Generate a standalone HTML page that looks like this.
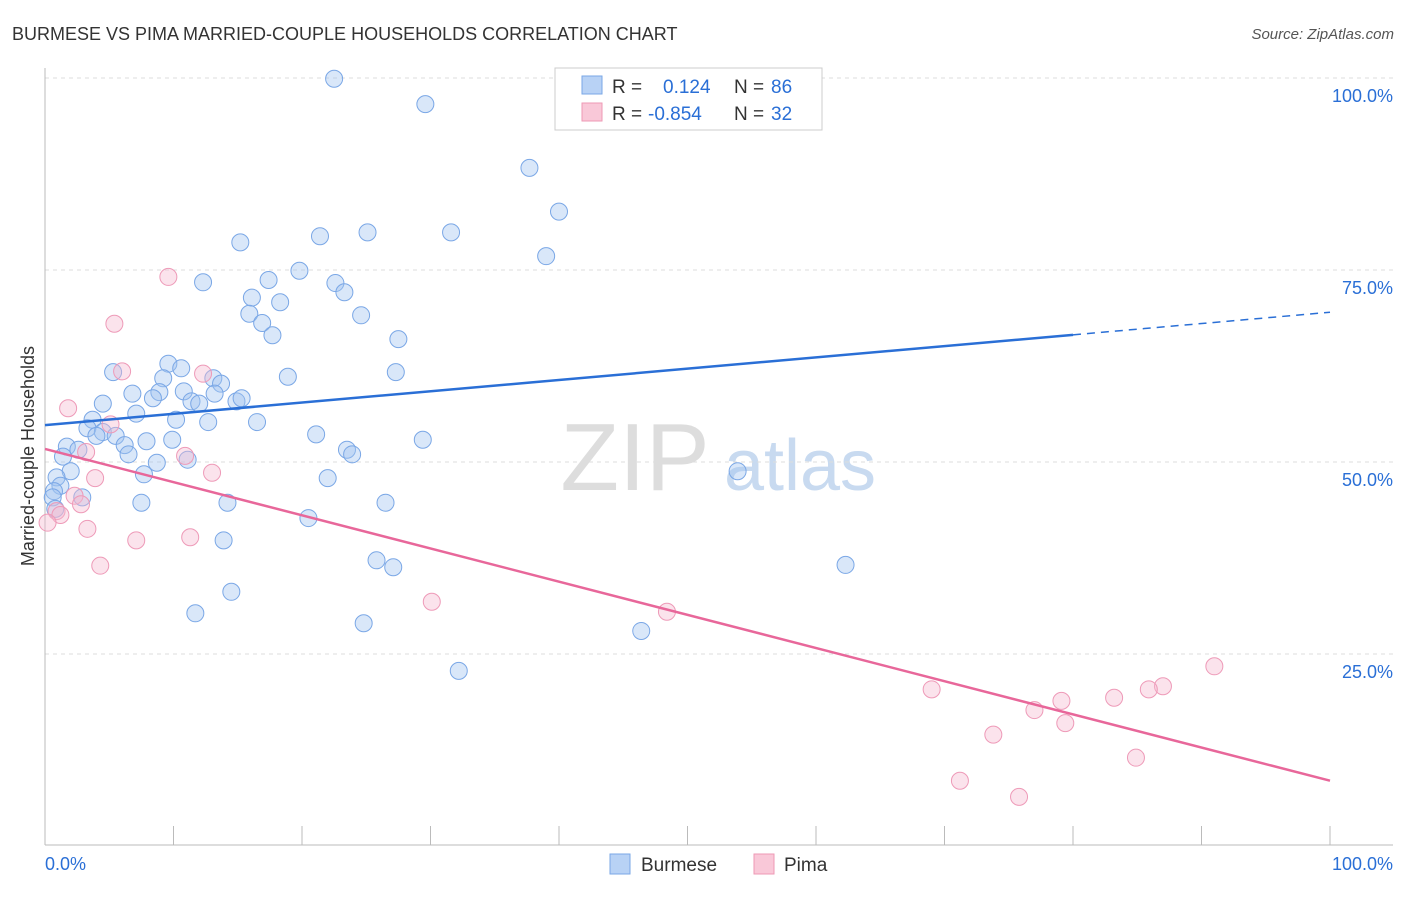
<!DOCTYPE html>
<html><head><meta charset="utf-8"><style>
body{margin:0;background:#fff;font-family:"Liberation Sans",sans-serif}
svg text{font-family:"Liberation Sans",sans-serif}
</style></head><body>
<svg id="chart" width="1406" height="892" xmlns="http://www.w3.org/2000/svg">
<text x="12" y="40" font-size="18" fill="#333">BURMESE VS PIMA MARRIED-COUPLE HOUSEHOLDS CORRELATION CHART</text>
<text x="1394" y="39" font-size="15" fill="#555" font-style="italic" text-anchor="end">Source: ZipAtlas.com</text>
<text x="635" y="490" font-size="96" fill="#ddd" font-family="Liberation Serif,serif" text-anchor="middle">ZIP</text>
<text x="800" y="490" font-size="72" fill="#c8daf0" text-anchor="middle">atlas</text>
<g id="grid"></g><g id="axes"></g><g id="marks"></g>
<text transform="translate(34,456) rotate(-90)" font-size="18" fill="#333" text-anchor="middle">Married-couple Households</text>
<g>
<rect x="555" y="68" width="267" height="62" fill="#fff" stroke="#ccc"/>
<rect x="582" y="76" width="20" height="18" fill="#b8d2f5" stroke="#7aa7e6"/>
<rect x="582" y="103" width="20" height="18" fill="#f9c8d8" stroke="#ee99b5"/>
<text x="612" y="93" font-size="19" fill="#333">R =</text><text x="663" y="93" font-size="19" fill="#2a6fd6">0.124</text>
<text x="734" y="93" font-size="19" fill="#333">N =</text><text x="771" y="93" font-size="19" fill="#2a6fd6">86</text>
<text x="612" y="120" font-size="19" fill="#333">R =</text><text x="648" y="120" font-size="19" fill="#2a6fd6">-0.854</text>
<text x="734" y="120" font-size="19" fill="#333">N =</text><text x="771" y="120" font-size="19" fill="#2a6fd6">32</text>
</g>
<g>
<rect x="610" y="854" width="20" height="20" fill="#b8d2f5" stroke="#7aa7e6"/>
<text x="641" y="871" font-size="19" fill="#333">Burmese</text>
<rect x="754" y="854" width="20" height="20" fill="#f9c8d8" stroke="#ee99b5"/>
<text x="784" y="871" font-size="19" fill="#333">Pima</text>
</g>
</svg>
<script>
const yTicks=[25,50,75,100];
const yTickLabels=["25.0%","50.0%","75.0%","100.0%"];
const xTicks=[0,10,20,30,40,50,60,70,80,90,100];
const burmeseX=[22.5,29.6,37.7,40.0,39.0,31.6,25.1,21.4,15.2,19.8,17.4,22.6,12.3,23.3,16.1,18.3,15.9,24.6,16.9,17.7,27.5,5.3,9.6,10.6,27.3,18.9,9.2,13.1,13.7,10.8,6.8,8.9,8.4,11.4,13.2,14.9,15.3,4.5,12.0,7.1,3.7,10.2,12.7,16.5,3.3,4.5,5.5,4.0,21.1,7.9,9.9,29.4,1.7,6.2,2.6,23.5,23.9,6.5,1.4,11.1,8.7,53.9,2.0,7.7,22.0,0.9,1.2,0.7,2.9,0.6,7.5,14.2,26.5,0.8,20.5,13.9,25.8,27.1,62.3,14.5,11.7,24.8,46.4,32.2];
const burmeseY=[99.9,96.6,88.3,82.6,76.8,79.9,79.9,79.4,78.6,74.9,73.7,73.3,73.4,72.1,71.4,70.8,69.3,69.1,68.1,66.5,66.0,61.7,62.8,62.2,61.7,61.1,60.9,60.9,60.2,59.2,58.9,59.1,58.3,57.9,58.9,57.9,58.3,57.6,57.6,56.3,55.5,55.5,55.2,55.2,54.4,53.9,53.4,53.4,53.6,52.7,52.9,52.9,52.0,52.2,51.6,51.6,51.0,51.0,50.7,50.3,49.9,48.8,48.8,48.4,47.9,48.0,46.9,46.2,45.4,45.4,44.7,44.7,44.7,43.9,42.7,39.8,37.2,36.3,36.6,33.1,30.3,29.0,28.0,22.8];
const pimaX=[9.6,5.4,6.0,12.3,1.8,5.1,3.2,10.9,13.0,3.9,2.3,2.8,0.9,1.2,0.2,3.3,7.1,11.3,4.3,30.1,48.4,69.0,91.0,87.0,85.9,83.2,79.1,77.0,79.4,73.8,84.9,71.2,75.8];
const pimaY=[74.1,68.0,61.8,61.5,57.0,54.9,51.3,50.8,48.6,47.9,45.6,44.5,43.6,43.1,42.1,41.3,39.8,40.2,36.5,31.8,30.5,20.4,23.4,20.8,20.4,19.3,18.9,17.7,16.0,14.5,11.5,8.5,6.4];
const burmeseTrend=[54.8,69.5];
const pimaTrend=[51.7,8.5];
const NS="http://www.w3.org/2000/svg";
const X=v=>45+v*12.85, Y=v=>846-v*7.68;
function mk(t,a,p){const e=document.createElementNS(NS,t);for(const k in a)e.setAttribute(k,a[k]);p.appendChild(e);return e;}
const grid=document.getElementById('grid'),axes=document.getElementById('axes'),marks=document.getElementById('marks');
yTicks.forEach((v,i)=>{
 const l=mk('line',{x1:45,x2:1393,y1:Y(v),y2:Y(v),stroke:'#ddd','stroke-dasharray':'4,4'},grid);
 
 
 const t=mk('text',{x:1393,y:Y(v)+24,'font-size':18,fill:'#2a6fd6','text-anchor':'end'},axes);
 t.textContent=yTickLabels[i];
 
 
});
const ax=mk('line',{x1:45,x2:1393,y1:845,y2:845,stroke:'#bbb'},axes);


const ay=mk('line',{x1:45,x2:45,y1:68,y2:845,stroke:'#bbb'},axes);


xTicks.forEach(v=>{const t=mk('line',{x1:X(v),x2:X(v),y1:826,y2:845,stroke:'#bbb'},axes);
 
 });
[["0.0%",45,'start'],["100.0%",1393,'end']].forEach(d=>{const t=mk('text',{x:d[1],y:870,'font-size':18,fill:'#2a6fd6','text-anchor':d[2]},axes);t.textContent=d[0];
 
 });
burmeseX.forEach((v,i)=>{const c=mk('circle',{cx:X(v),cy:Y(burmeseY[i]),r:8.5,fill:'rgba(160,195,240,0.4)',stroke:'#7aa7e6','stroke-width':1},marks);
 
 });
pimaX.forEach((v,i)=>{const c=mk('circle',{cx:X(v),cy:Y(pimaY[i]),r:8.5,fill:'rgba(245,185,208,0.4)',stroke:'#ee9ab8','stroke-width':1},marks);
 
 });
const bAt=x=>burmeseTrend[0]+(burmeseTrend[1]-burmeseTrend[0])*x/100;
const b1=mk('line',{x1:X(0),y1:Y(bAt(0)),x2:X(80),y2:Y(bAt(80)),stroke:'#2a6fd6','stroke-width':2.5},marks);


const b2=mk('line',{x1:X(80),y1:Y(bAt(80)),x2:X(100),y2:Y(bAt(100)),stroke:'#2a6fd6','stroke-width':1.5,'stroke-dasharray':'8,6'},marks);


const p1=mk('line',{x1:X(0),y1:Y(pimaTrend[0]),x2:X(100),y2:Y(pimaTrend[1]),stroke:'#e8679a','stroke-width':2.5},marks);


</script>
</body></html>
